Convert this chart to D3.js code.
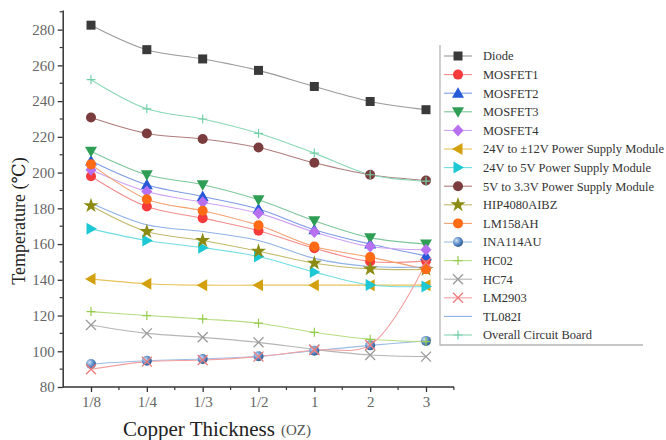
<!DOCTYPE html>
<html>
<head>
<meta charset="utf-8">
<script src="https://cdn.jsdelivr.net/npm/d3@7"></script>
<style>
  body { margin: 0; background: #fff; }
  svg { display: block; font-family: "Liberation Serif", "DejaVu Serif", serif; }
</style>
</head>
<body>
<div id="vis"></div>
<script>
////////////////////////////////////////
////////////// Data ////////////////////
////////////////////////////////////////

const thickness = ['1/8', '1/4', '1/3', '1/2', '1', '2', '3'];
const yTicks = [80, 100, 120, 140, 160, 180, 200, 220, 240, 260, 280];

const diode      = [282.5, 268.8, 263.6, 257.2, 248.2, 239.8, 235.2];
const mosfet1    = [198, 181, 174.5, 167.5, 157.7, 150.2, 150.6];
const mosfet2    = [206.5, 193.2, 186.6, 179.6, 168, 160, 153.4];
const mosfet3    = [212, 198.8, 193.2, 184.8, 173, 163.6, 160];
const mosfet4    = [201.6, 189.4, 183.4, 177.3, 166.7, 158.6, 156.8];
const ps24to12   = [140.5, 137.8, 137, 137, 137, 137, 137];
const ps24to5    = [168.5, 162, 158, 153, 144.3, 137.1, 136.2];
const ps5to33    = [230.8, 221.9, 218.8, 214, 205.5, 198.8, 195.6];
const hip4080    = [181.5, 167, 162, 156, 149.3, 146.1, 145.8];
const lm158      = [204.6, 185.1, 178.6, 170.5, 158.6, 152.7, 145.9];
const ina114     = [92.9, 94.7, 95.7, 97.2, 100.3, 103.3, 105.8];
const hc02       = [122.2, 120, 118.1, 115.7, 110.6, 106.7, 105.4];
const hc74       = [114.7, 110, 107.8, 105, 101, 97.9, 97];
const lm2903     = [89.9, 94.2, 95.1, 97, 100.7, 103.5, 149.5];
const tl082      = [183, 170.8, 167, 162, 152, 147.4, 147.2];
const overall    = [252, 235.7, 230, 222, 210.9, 198.8, 195.2];

const seriesNames = ['Diode', 'MOSFET1', 'MOSFET2', 'MOSFET3', 'MOSFET4',
    '24V to \u00b112V Power Supply Module', '24V to 5V Power Supply Module',
    '5V to 3.3V Power Supply Module', 'HIP4080AIBZ', 'LM158AH', 'INA114AU',
    'HC02', 'HC74', 'LM2903', 'TL082I', 'Overall Circuit Board'];
const seriesValues = [diode, mosfet1, mosfet2, mosfet3, mosfet4, ps24to12, ps24to5,
    ps5to33, hip4080, lm158, ina114, hc02, hc74, lm2903, tl082, overall];

// marker colour, line colour, symbol
const styles = [
    { c: '#3a3a3a', l: '#9a9a9a', s: 'square' },
    { c: '#f43a3a', l: '#f58c8c', s: 'circle' },
    { c: '#2659d8', l: '#7d9be6', s: 'triUp' },
    { c: '#2f9e55', l: '#7cc79a', s: 'triDown' },
    { c: '#b770f0', l: '#cfa3f3', s: 'diamond' },
    { c: '#d3a00e', l: '#e6c35a', s: 'triLeft' },
    { c: '#1cc8d4', l: '#6fdde4', s: 'triRight' },
    { c: '#7a3c3c', l: '#b07c7c', s: 'circle' },
    { c: '#8b8b14', l: '#c2ba6a', s: 'star' },
    { c: '#ff6a14', l: '#f5a070', s: 'circle' },
    { c: '#5b8ccb', l: '#9bbde6', s: 'sphere' },
    { c: '#95cc4a', l: '#b7dd83', s: 'plus' },
    { c: '#9a9a9a', l: '#b5b5b5', s: 'cross' },
    { c: '#f07a7a', l: '#f5a0a0', s: 'cross' },
    { c: '#8fb2e6', l: '#8fb2e6', s: 'none' },
    { c: '#72cfa6', l: '#8ad8b6', s: 'plus' }
];

////////////////////////////////////////
////////////// SVG Setup ///////////////
////////////////////////////////////////

const width = 666, height = 440;

const svg = d3.select('#vis').append('svg')
    .attr('width', width)
    .attr('height', height);

const x = d3.scalePoint()
    .domain(thickness)
    .range([91, 426]);

const y = d3.scaleLinear()
    .domain([80, 291])
    .range([387, 10]);

const xLeft = 62.7, xRight = 454;

////////////////////////////////////////
////////////// Axes ////////////////////
////////////////////////////////////////

// y axis
const yAxis = svg.append('g')
    .attr('transform', `translate(${xLeft},0)`)
    .call(d3.axisLeft(y).tickValues(yTicks).tickSize(5).tickPadding(3).tickSizeOuter(0));
yAxis.select('.domain').attr('stroke', '#333').attr('stroke-width', 1.5);
yAxis.selectAll('.tick line').attr('stroke', '#333').attr('stroke-width', 1.3);
yAxis.selectAll('.tick text')
    .attr('fill', '#666')
    .style('font-size', '15px')
    .style('font-family', '"Liberation Serif", serif');

// minor y ticks
svg.append('g').selectAll('line')
    .data(d3.range(90, 291, 20))
    .join('line')
    .attr('x1', xLeft - 3).attr('x2', xLeft)
    .attr('y1', d => y(d)).attr('y2', d => y(d))
    .attr('stroke', '#333').attr('stroke-width', 1.2);

// x axis
svg.append('line')
    .attr('x1', xLeft).attr('x2', xRight)
    .attr('y1', 387).attr('y2', 387)
    .attr('stroke', '#333').attr('stroke-width', 1.5);

const xAxis = svg.append('g')
    .attr('transform', 'translate(0,387)')
    .call(d3.axisBottom(x).tickSize(5).tickPadding(4));
xAxis.select('.domain').remove();
xAxis.selectAll('.tick line').attr('stroke', '#333').attr('stroke-width', 1.3);
xAxis.selectAll('.tick text')
    .attr('fill', '#666')
    .style('font-size', '15px')
    .style('font-family', '"Liberation Serif", serif');

// minor x ticks between categories
const step = x.step();
svg.append('g').selectAll('line')
    .data(thickness)
    .join('line')
    .attr('x1', d => x(d) + step / 2).attr('x2', d => x(d) + step / 2)
    .attr('y1', 387).attr('y2', 390)
    .attr('stroke', '#333').attr('stroke-width', 1.2);

// axis titles
svg.append('text')
    .attr('x', 123).attr('y', 436)
    .attr('fill', '#222')
    .style('font-size', '21px')
    .text('Copper Thickness');
svg.append('text')
    .attr('x', 281).attr('y', 435)
    .attr('fill', '#555')
    .style('font-size', '15px')
    .text('(OZ)');

svg.append('text')
    .attr('transform', 'translate(25,221) rotate(-90)')
    .attr('text-anchor', 'middle')
    .attr('fill', '#222')
    .style('font-size', '18px')
    .text('Temperature (\u2103)');

////////////////////////////////////////
////////////// Markers /////////////////
////////////////////////////////////////

const defs = svg.append('defs');
const grad = defs.append('radialGradient').attr('id', 'sphere')
    .attr('cx', '35%').attr('cy', '35%').attr('r', '65%');
grad.append('stop').attr('offset', '0%').attr('stop-color', '#cfe0f5');
grad.append('stop').attr('offset', '60%').attr('stop-color', '#5b8ccb');
grad.append('stop').attr('offset', '100%').attr('stop-color', '#2f5f92');

function drawMarker(g, st, cx, cy) {
    const r = 5;
    if (st.s === 'square') {
        g.append('rect').attr('x', cx - 4.5).attr('y', cy - 4.5)
            .attr('width', 9).attr('height', 9).attr('fill', st.c);
    } else if (st.s === 'circle') {
        g.append('circle').attr('cx', cx).attr('cy', cy).attr('r', r).attr('fill', st.c);
    } else if (st.s === 'sphere') {
        g.append('circle').attr('cx', cx).attr('cy', cy).attr('r', r).attr('fill', 'url(#sphere)');
    } else if (st.s === 'star') {
        g.append('path').attr('transform', `translate(${cx},${cy})`)
            .attr('d', d3.symbol(d3.symbolStar, 70)()).attr('fill', st.c);
    } else if (st.s === 'diamond') {
        g.append('path').attr('d', `M${cx},${cy - 6}L${cx + 5.5},${cy}L${cx},${cy + 6}L${cx - 5.5},${cy}Z`)
            .attr('fill', st.c);
    } else if (st.s === 'triUp') {
        g.append('path').attr('d', `M${cx},${cy - 6}L${cx + 6},${cy + 4.5}L${cx - 6},${cy + 4.5}Z`).attr('fill', st.c);
    } else if (st.s === 'triDown') {
        g.append('path').attr('d', `M${cx},${cy + 6}L${cx + 6},${cy - 4.5}L${cx - 6},${cy - 4.5}Z`).attr('fill', st.c);
    } else if (st.s === 'triLeft') {
        g.append('path').attr('d', `M${cx - 6},${cy}L${cx + 4.5},${cy - 6}L${cx + 4.5},${cy + 6}Z`).attr('fill', st.c);
    } else if (st.s === 'triRight') {
        g.append('path').attr('d', `M${cx + 6},${cy}L${cx - 4.5},${cy - 6}L${cx - 4.5},${cy + 6}Z`).attr('fill', st.c);
    } else if (st.s === 'plus') {
        g.append('path').attr('d', `M${cx - 4.5},${cy}H${cx + 4.5}M${cx},${cy - 4.5}V${cy + 4.5}`)
            .attr('stroke', st.c).attr('stroke-width', 1.2).attr('fill', 'none');
    } else if (st.s === 'cross') {
        g.append('path').attr('d', `M${cx - 5},${cy - 5}L${cx + 5},${cy + 5}M${cx - 5},${cy + 5}L${cx + 5},${cy - 5}`)
            .attr('stroke', st.c).attr('stroke-width', 1.3).attr('fill', 'none');
    }
}

////////////////////////////////////////
////////////// Lines ///////////////////
////////////////////////////////////////

const line = d3.line()
    .x((d, i) => x(thickness[i]))
    .y(d => y(d))
    .curve(d3.curveCatmullRom.alpha(0.5));

const plot = svg.append('g');

seriesValues.forEach((vals, k) => {
    plot.append('path')
        .datum(vals)
        .attr('d', line)
        .attr('fill', 'none')
        .attr('stroke', styles[k].l)
        .attr('stroke-width', 1.1);
});

seriesValues.forEach((vals, k) => {
    const g = plot.append('g');
    vals.forEach((v, i) => drawMarker(g, styles[k], x(thickness[i]), y(v)));
});

////////////////////////////////////////
////////////// Legend //////////////////
////////////////////////////////////////

const legend = svg.append('g');
legend.append('rect')
    .attr('x', 440).attr('y', 45).attr('width', 205).attr('height', 300)
    .attr('fill', '#fff');
legend.append('path')
    .attr('d', 'M440,45V345H643')
    .attr('fill', 'none')
    .attr('stroke', '#b5b5b5')
    .attr('stroke-width', 1.3);

seriesNames.forEach((name, k) => {
    const ly = 56 + k * 18.6;
    legend.append('line')
        .attr('x1', 444).attr('x2', 472)
        .attr('y1', ly).attr('y2', ly)
        .attr('stroke', styles[k].l).attr('stroke-width', 1.1);
    drawMarker(legend, styles[k], 458, ly);
    legend.append('text')
        .attr('x', 483).attr('y', ly + 4.3)
        .attr('fill', '#333')
        .style('font-size', '12.5px')
        .text(name);
});
</script>
</body>
</html>
